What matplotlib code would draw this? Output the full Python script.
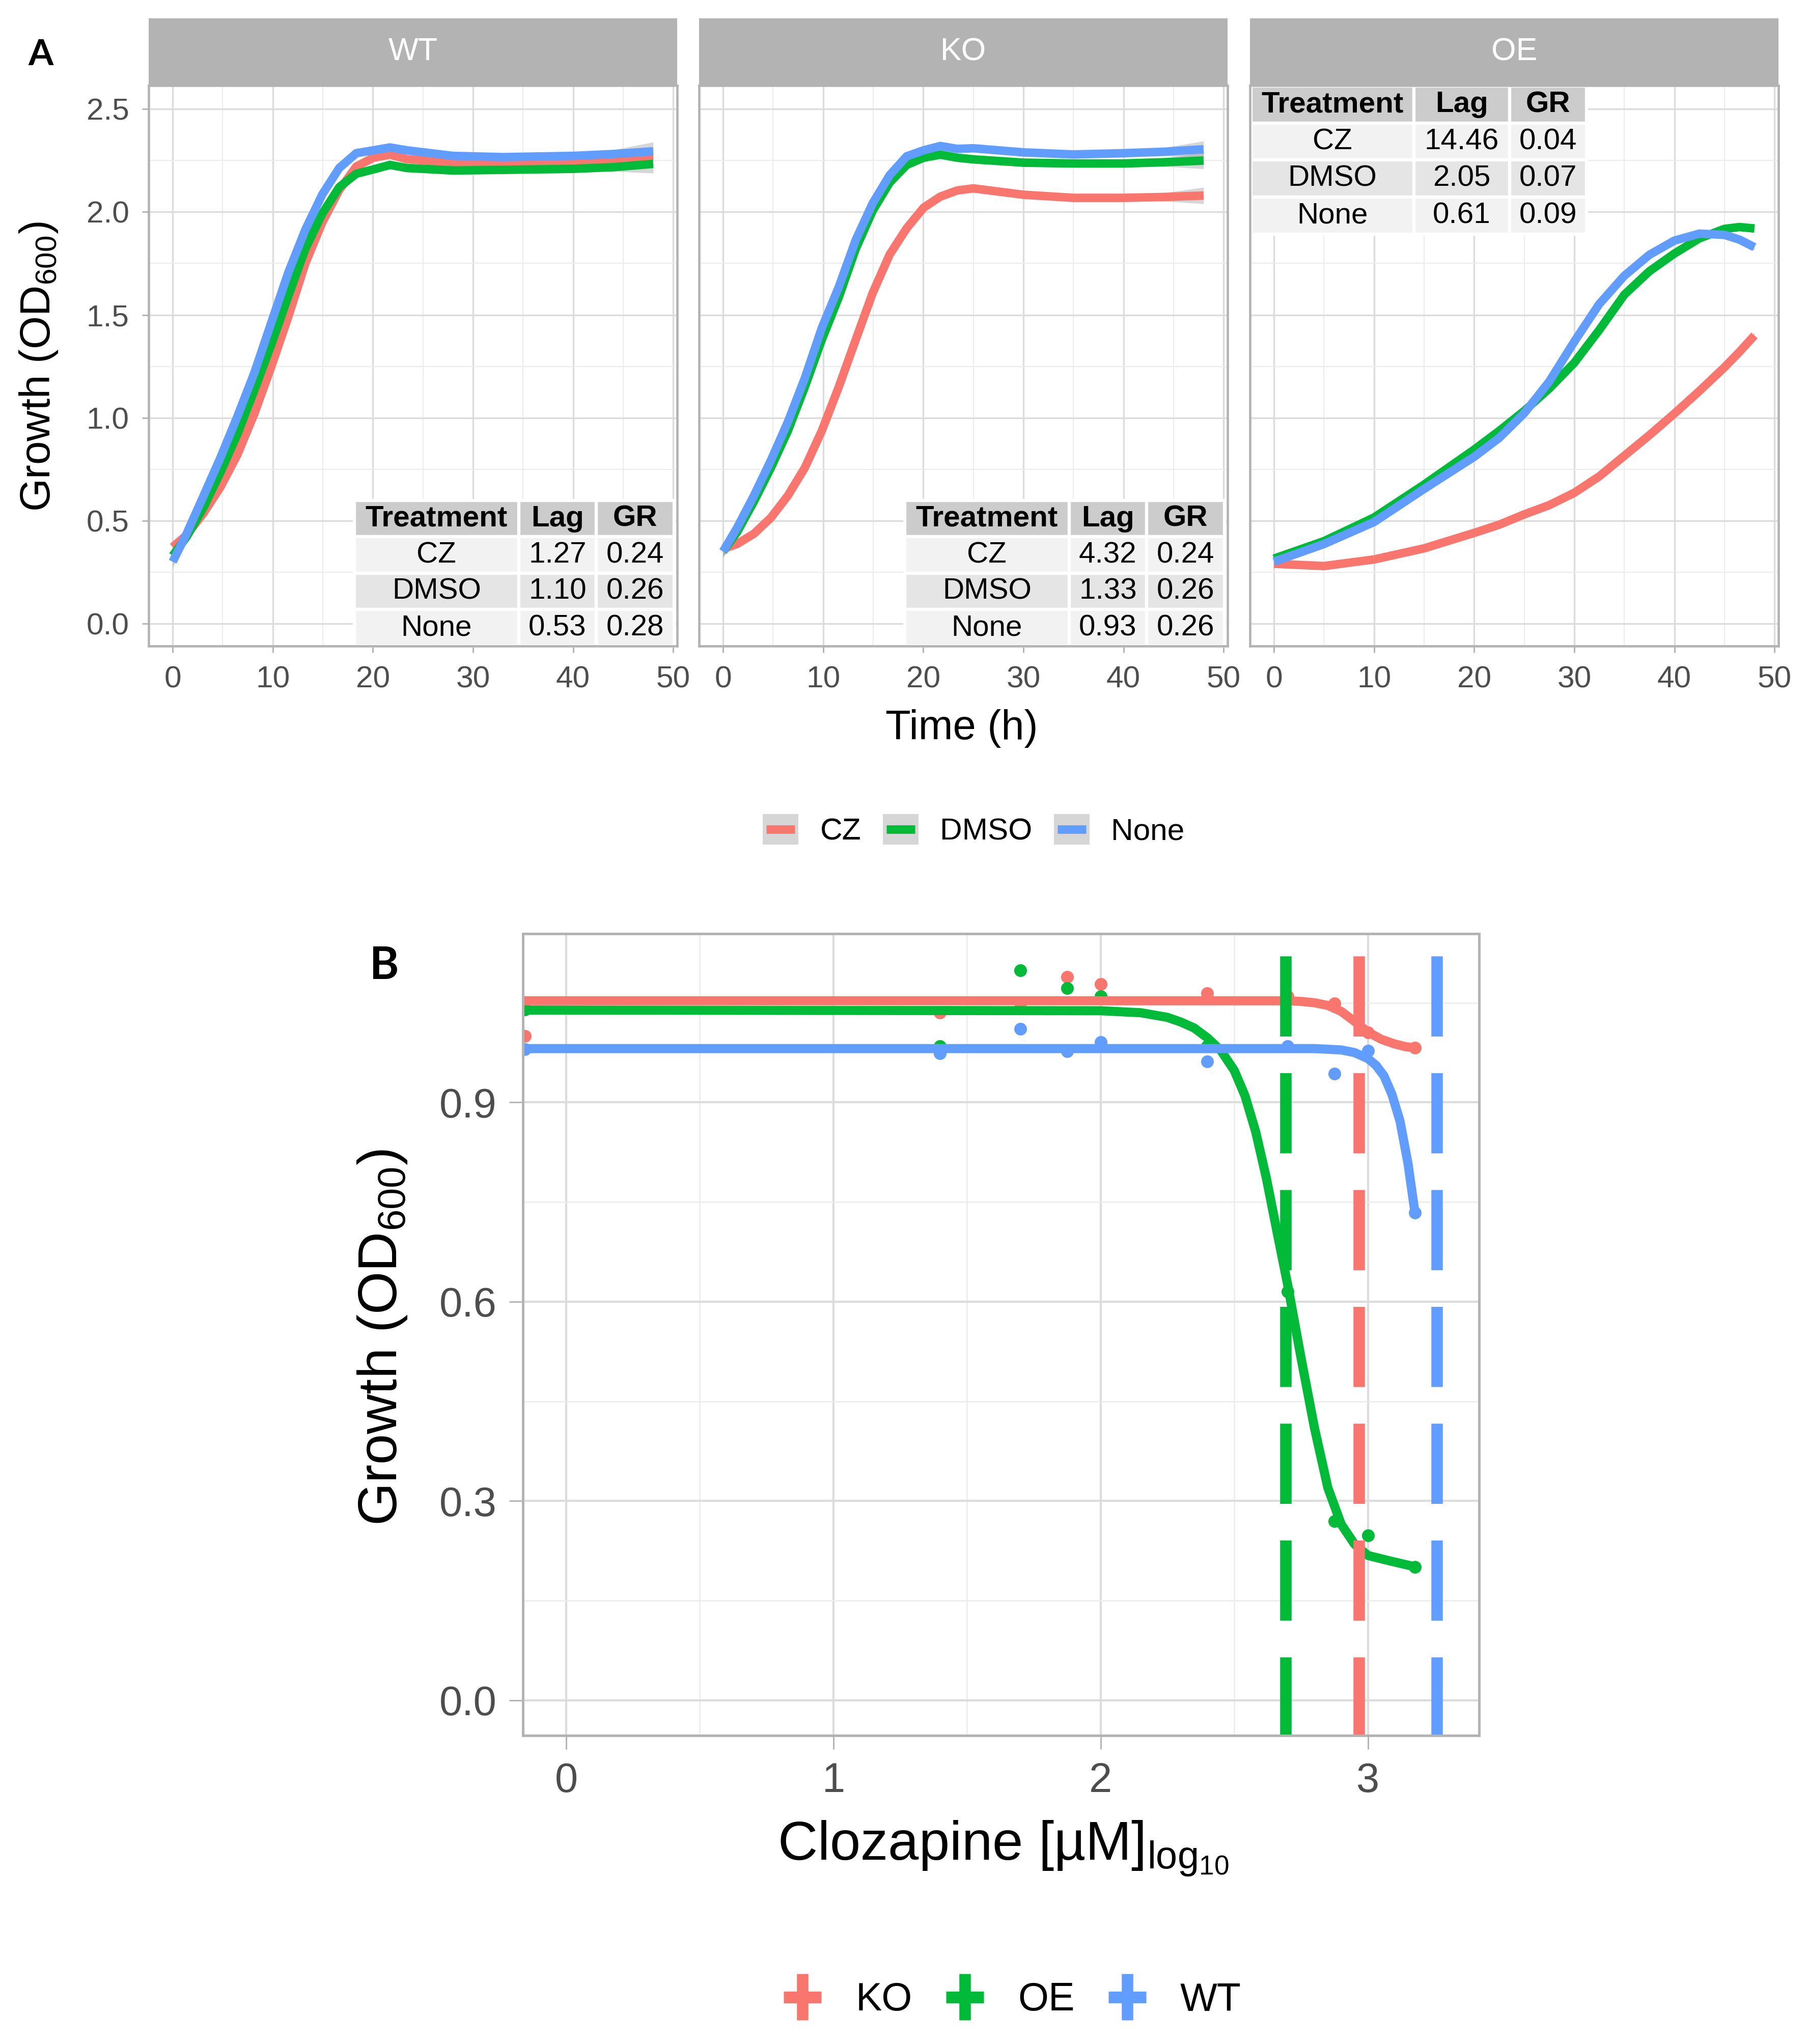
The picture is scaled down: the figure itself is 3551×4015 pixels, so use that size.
import matplotlib
matplotlib.use("Agg")
from matplotlib import pyplot as plt
from matplotlib.patches import Rectangle
from matplotlib.lines import Line2D
from matplotlib.legend_handler import HandlerBase
from matplotlib.ticker import MultipleLocator

plt.rcParams["font.family"] = "Liberation Sans"
plt.rcParams["mathtext.fontset"] = "custom"
plt.rcParams["mathtext.rm"] = "Liberation Sans"
plt.rcParams["mathtext.default"] = "regular"

# ---- panel A: growth curves (smoothed) ----
treatments = ["CZ", "DMSO", "None"]
strains = ["WT", "KO", "OE"]

t_wt = [0, 1.39, 3.08, 4.78, 6.47, 8.17, 9.86, 11.56, 13.25, 14.95, 16.64, 18.34, 20.03,
        21.7, 23.4, 28, 33, 40, 44, 48]
wt_cz = [0.371, 0.429, 0.536, 0.664, 0.821, 1.021, 1.25, 1.493, 1.75, 1.95, 2.107, 2.221,
         2.264, 2.279, 2.257, 2.24, 2.245, 2.25, 2.258, 2.268]
wt_dmso = [0.329, 0.421, 0.564, 0.736, 0.921, 1.136, 1.357, 1.593, 1.821, 1.993, 2.121, 2.186,
           2.207, 2.229, 2.214, 2.202, 2.205, 2.21, 2.218, 2.234]
wt_none = [0.30, 0.436, 0.62, 0.807, 1.007, 1.22, 1.464, 1.707, 1.914, 2.086, 2.214, 2.286,
           2.30, 2.314, 2.30, 2.273, 2.267, 2.273, 2.282, 2.295]
se_wt = [0.03, 0.02, 0.012, 0.01, 0.01, 0.01, 0.01, 0.01, 0.01, 0.01, 0.01, 0.01, 0.01,
         0.01, 0.01, 0.01, 0.01, 0.012, 0.02, 0.045]

t_ko = [0, 1.39, 3.08, 4.78, 6.47, 8.17, 9.86, 11.56, 13.25, 14.95, 16.64, 18.34, 20.03,
        21.7, 23.4, 25, 30, 35, 40, 44, 48]
ko_cz = [0.364, 0.386, 0.436, 0.514, 0.621, 0.757, 0.936, 1.15, 1.379, 1.607, 1.793, 1.921,
         2.021, 2.075, 2.105, 2.115, 2.084, 2.069, 2.069, 2.073, 2.08]
ko_dmso = [0.35, 0.443, 0.593, 0.757, 0.936, 1.15, 1.379, 1.586, 1.821, 2.007, 2.143, 2.229,
           2.264, 2.279, 2.264, 2.256, 2.24, 2.236, 2.236, 2.242, 2.25]
ko_none = [0.35, 0.464, 0.621, 0.793, 0.979, 1.193, 1.436, 1.636, 1.864, 2.043, 2.179, 2.271,
           2.30, 2.321, 2.307, 2.31, 2.29, 2.28, 2.286, 2.293, 2.305]
se_ko = [0.03, 0.02, 0.012, 0.01, 0.01, 0.01, 0.01, 0.01, 0.01, 0.01, 0.01, 0.01, 0.01,
         0.01, 0.01, 0.01, 0.01, 0.01, 0.012, 0.02, 0.04]

t_oe = [0, 5, 10, 15, 20, 22.5, 25, 27.5, 30, 32.5, 35, 37.5, 40, 42.5, 45, 46.5, 48]
oe_cz = [0.29, 0.279, 0.311, 0.365, 0.44, 0.48, 0.53, 0.575, 0.635, 0.715, 0.815, 0.915,
         1.02, 1.13, 1.245, 1.32, 1.40]
oe_dmso = [0.315, 0.40, 0.515, 0.675, 0.845, 0.936, 1.033, 1.142, 1.267, 1.427, 1.598, 1.712,
           1.798, 1.872, 1.918, 1.927, 1.92]
oe_none = [0.30, 0.386, 0.493, 0.654, 0.81, 0.902, 1.022, 1.176, 1.37, 1.553, 1.69, 1.792,
           1.861, 1.895, 1.889, 1.866, 1.829]
se_oe = [0.01, 0.008, 0.008, 0.008, 0.008, 0.008, 0.008, 0.008, 0.008, 0.008, 0.008, 0.008,
         0.008, 0.008, 0.01, 0.012, 0.015]

# tables in each facet
table_header = ["Treatment", "Lag", "GR"]
lag_wt = [1.27, 1.10, 0.53]
gr_wt = [0.24, 0.26, 0.28]
lag_ko = [4.32, 1.33, 0.93]
gr_ko = [0.24, 0.26, 0.26]
lag_oe = [14.46, 2.05, 0.61]
gr_oe = [0.04, 0.07, 0.09]

# ---- panel B: dose response ----
genotypes = ["KO", "OE", "WT"]
conc = [-0.155, 1.398, 1.70, 1.875, 2.0, 2.398, 2.70, 2.875, 3.0, 3.176]
pts_ko = [1.00, 1.035, 1.05, 1.089, 1.078, 1.064, 1.06, 1.049, 1.005, 0.982]
pts_oe = [1.04, 0.985, 1.099, 1.072, 1.06, 0.985, 0.615, 0.270, 0.248, 0.201]
pts_wt = [0.98, 0.974, 1.011, 0.977, 0.991, 0.962, 0.985, 0.943, 0.978, 0.734]

fit_x_ko = [-0.155, 2.5, 2.7, 2.75, 2.8, 2.85, 2.9, 2.95, 3.0, 3.05, 3.1, 3.14, 3.176]
fit_ko = [1.053, 1.053, 1.053, 1.052, 1.05, 1.046, 1.037, 1.022, 1.006, 0.995, 0.988, 0.984, 0.982]
fit_x_oe = [-0.155, 2.0, 2.15, 2.25, 2.3, 2.35, 2.4, 2.45, 2.5, 2.54, 2.58, 2.62, 2.66, 2.7,
            2.75, 2.8, 2.85, 2.9, 2.95, 3.0, 3.08, 3.176]
fit_oe = [1.039, 1.038, 1.035, 1.028, 1.021, 1.012, 0.997, 0.978, 0.948, 0.91, 0.856, 0.786,
          0.705, 0.625, 0.515, 0.41, 0.32, 0.265, 0.235, 0.218, 0.21, 0.201]
fit_x_wt = [-0.155, 2.8, 2.9, 2.95, 3.0, 3.03, 3.06, 3.09, 3.12, 3.15, 3.176]
fit_wt = [0.981, 0.981, 0.979, 0.975, 0.966, 0.956, 0.94, 0.912, 0.872, 0.808, 0.734]

ec50 = [2.967, 2.692, 3.258]

colors = ["#F8766D", "#00BA38", "#619CFF"]
border = "#b3b3b3"
tick_col = "#4d4d4d"

W, H = 3551, 4015
fig = plt.figure(figsize=(W / 300, H / 300), dpi=300)


class SmoothKey(HandlerBase):
    # grey se box with a coloured line, as in the geom_smooth legend
    def create_artists(self, legend, orig_handle, xdescent, ydescent, width, height,
                       fontsize, trans):
        rect = Rectangle((-xdescent, -ydescent), width, height, facecolor="#d6d6d6",
                         edgecolor="none", transform=trans)
        y = -ydescent + height / 2
        pad = width * 0.1
        ln = Line2D([-xdescent + pad, -xdescent + width - pad], [y, y],
                    color=orig_handle.get_color(), lw=4, solid_capstyle="butt",
                    transform=trans)
        return [rect, ln]


class CrossKey(HandlerBase):
    # vertical dashed-line key crossed by the curve key
    def create_artists(self, legend, orig_handle, xdescent, ydescent, width, height,
                       fontsize, trans):
        c = orig_handle.get_color()
        xc = -xdescent + width / 2
        yc = -ydescent + height / 2
        v = Line2D([xc, xc], [yc - 11, yc + 11], color=c, lw=5.4, solid_capstyle="butt",
                   transform=trans)
        h = Line2D([-xdescent, -xdescent + width], [yc, yc], color=c, lw=5.5,
                   solid_capstyle="butt", transform=trans)
        return [v, h]


def style_axes(ax, tick_len, tick_size, major_lw, minor_lw, spine_lw):
    ax.set_facecolor("white")
    for s in ax.spines.values():
        s.set_color(border)
        s.set_linewidth(spine_lw)
        s.set_zorder(10)
    ax.grid(True, which="major", color="#dcdcdc", lw=major_lw)
    ax.grid(True, which="minor", color="#ececec", lw=minor_lw)
    ax.set_axisbelow(True)
    ax.tick_params(which="major", length=tick_len, width=0.7, color=border,
                   labelcolor=tick_col, labelsize=tick_size, pad=6)
    ax.tick_params(which="minor", length=0)


def draw_table(ax, x0, y0, col_w, row_h, lags, grs):
    rows = [table_header] + [[t, f"{l:.2f}", f"{g:.2f}"] for t, l, g in zip(treatments, lags, grs)]
    fills = ["#cccccc", "#f2f2f2", "#e5e5e5", "#f2f2f2"]
    for i, row in enumerate(rows):
        y = y0 + (len(rows) - 1 - i) * row_h
        x = x0
        for j, txt in enumerate(row):
            ax.add_patch(Rectangle((x, y), col_w[j], row_h, transform=ax.transAxes,
                                   facecolor=fills[i], edgecolor="white", lw=1.5,
                                   clip_on=False, zorder=5))
            ax.text(x + col_w[j] / 2, y + row_h / 2, txt, transform=ax.transAxes,
                    ha="center", va="center", fontsize=14,
                    fontweight="bold" if i == 0 else "normal", zorder=6)
            x += col_w[j]


panel_t = [t_wt, t_ko, t_oe]
panel_curves = [[wt_cz, wt_dmso, wt_none], [ko_cz, ko_dmso, ko_none], [oe_cz, oe_dmso, oe_none]]
panel_se = [se_wt, se_ko, se_oe]
panel_lag = [lag_wt, lag_ko, lag_oe]
panel_gr = [gr_wt, gr_ko, gr_oe]
lefts = [292, 1373, 2455]
pw = 1038
top_px, bot_px, strip_top = 168, 1269, 36

for k, name in enumerate(strains):
    ax = fig.add_axes([lefts[k] / W, 1 - bot_px / H, pw / W, (bot_px - top_px) / H])
    style_axes(ax, 3.2, 14.5, 0.8, 0.5, 1.1)
    t = panel_t[k]
    for curve in panel_curves[k]:
        lo = [v - s for v, s in zip(curve, panel_se[k])]
        hi = [v + s for v, s in zip(curve, panel_se[k])]
        ax.fill_between(t, lo, hi, color="#999999", alpha=0.4, lw=0)
    for curve, c in zip(panel_curves[k], colors):
        ax.plot(t, curve, color=c, lw=4, solid_capstyle="butt", solid_joinstyle="round")
    ax.set_xlim(-2.4, 50.4)
    ax.set_ylim(-0.11, 2.615)
    ax.xaxis.set_major_locator(MultipleLocator(10))
    ax.xaxis.set_minor_locator(MultipleLocator(5))
    ax.yaxis.set_major_locator(MultipleLocator(0.5))
    ax.yaxis.set_minor_locator(MultipleLocator(0.25))
    ax.yaxis.set_major_formatter(plt.FormatStrFormatter("%.1f"))
    if k > 0:
        ax.tick_params(axis="y", which="both", length=0, labelleft=False)
    if k < 2:
        draw_table(ax, 0.389, 0.0, [0.311, 0.147, 0.147], 0.065, panel_lag[k], panel_gr[k])
    else:
        draw_table(ax, 0.002, 0.735, [0.308, 0.181, 0.146], 0.066, panel_lag[k], panel_gr[k])
    # facet strip
    sax = fig.add_axes([lefts[k] / W, 1 - top_px / H, pw / W, (top_px - strip_top) / H])
    sax.set_facecolor(border)
    sax.set_xticks([])
    sax.set_yticks([])
    for s in sax.spines.values():
        s.set_visible(False)
    sax.text(0.5, 0.5, name, ha="center", va="center", color="white", fontsize=15,
             transform=sax.transAxes)

fig.text(0.0214, 1 - 720 / H, "Growth (OD$_{600}$)", rotation=90, ha="center", va="center",
         fontsize=20)
fig.text(0.532, 1 - 1452 / H, "Time (h)", ha="center", va="baseline", fontsize=19.5)
fig.text(0.0225, 1 - 108 / H, "A", ha="center", va="center", fontsize=17,
         fontweight="bold", family="Lato")

hA = [Line2D([], [], color=c) for c in colors]
fig.legend(hA, treatments, handler_map={Line2D: SmoothKey()},
           loc="center", bbox_to_anchor=(0.5385, 1 - 1630 / H), ncol=3, frameon=False,
           fontsize=14.5, handlelength=1.16, handleheight=1.16, handletextpad=0.7,
           columnspacing=0.7)

# ---- panel B ----
axb = fig.add_axes([1027 / W, 1 - 3409 / H, (2905 - 1027) / W, (3409 - 1834) / H])
style_axes(axb, 6.4, 19.5, 1.0, 0.6, 1.2)
for y, c in zip([pts_ko, pts_oe, pts_wt], colors):
    axb.plot(conc, y, "o", color=c, ms=6, mew=0, zorder=3)
for fx, fy, c in zip([fit_x_ko, fit_x_oe, fit_x_wt], [fit_ko, fit_oe, fit_wt], colors):
    axb.plot(fx, fy, color=c, lw=4.3, solid_joinstyle="round", solid_capstyle="round", zorder=4)
for e, c in zip(ec50, colors):
    axb.plot([e, e], [1.12, -0.06], color=c, lw=5.4, dashes=(7, 3.2),
             dash_capstyle="butt", zorder=5)
axb.set_xlim(-0.162, 3.416)
axb.set_ylim(-0.053, 1.154)
axb.xaxis.set_major_locator(MultipleLocator(1))
axb.xaxis.set_minor_locator(MultipleLocator(0.5))
axb.yaxis.set_major_locator(MultipleLocator(0.3))
axb.yaxis.set_minor_locator(MultipleLocator(0.15))
axb.yaxis.set_major_formatter(plt.FormatStrFormatter("%.1f"))

fig.text(751 / W, 1 - 2627 / H, "Growth (OD$_{600}$)", rotation=90, ha="center", va="center",
         fontsize=26)
fig.text(0.5548, 1 - 3654 / H, r"Clozapine [µM]$_{\mathrm{log}_{10}}$", ha="center",
         va="baseline", fontsize=26)
fig.text(755 / W, 1 - 1898 / H, "B", ha="center", va="center", fontsize=21,
         fontweight="bold", family="Lato")

hB = [Line2D([], [], color=c) for c in colors]
fig.legend(hB, genotypes, handler_map={Line2D: CrossKey()},
           loc="center", bbox_to_anchor=(0.560, 1 - 3929 / H), ncol=3, frameon=False,
           fontsize=18.5, handlelength=0.96, handletextpad=0.87, columnspacing=0.86)

fig.savefig("out.png", dpi=300, facecolor="white")
plt.close()
